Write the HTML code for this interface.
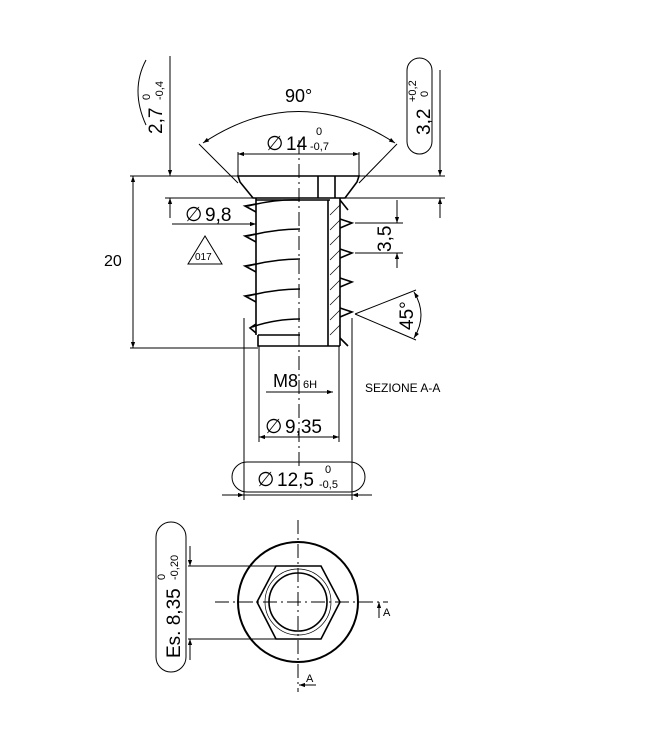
<!DOCTYPE html>
<html><head><style>html,body{margin:0;padding:0;background:#fff}svg{display:block}
text{font-family:"Liberation Sans",sans-serif;fill:#000}
.d{font-family:"DejaVu Sans",sans-serif;font-size:20px}</style></head><body>
<svg width="651" height="743" viewBox="0 0 651 743" xmlns="http://www.w3.org/2000/svg">
<defs><marker id="a" viewBox="0 0 10 10" refX="10" refY="5" markerWidth="10" markerHeight="6" orient="auto-start-reverse" markerUnits="userSpaceOnUse"><path d="M0,1.5 L10,5 L0,8.5z" fill="#000"/></marker></defs>
<g stroke="#000" fill="none" stroke-width="1">
<line x1="130" y1="176" x2="445" y2="176"/>
<line x1="165" y1="198" x2="445" y2="198"/>
<line x1="130" y1="348" x2="258" y2="348"/>
<line x1="133" y1="176" x2="133" y2="348" marker-start="url(#a)" marker-end="url(#a)"/>
<line x1="170" y1="56" x2="170" y2="176" marker-end="url(#a)"/>
<line x1="170" y1="198" x2="170" y2="218" marker-start="url(#a)"/>
<path d="M146,60 Q130,90 146,125" />
<line x1="440" y1="70" x2="440" y2="176" marker-end="url(#a)"/>
<line x1="440" y1="198" x2="440" y2="218" marker-start="url(#a)"/>
<rect x="407" y="58" width="25" height="96" rx="12.5"/>
<path d="M203,143 Q298,80 395,143" marker-start="url(#a)" marker-end="url(#a)"/>
<line x1="199" y1="144" x2="238" y2="183"/>
<line x1="397" y1="144" x2="359" y2="183"/>
<line x1="238" y1="152" x2="238" y2="176"/>
<line x1="359" y1="152" x2="359" y2="176"/>
<line x1="238" y1="154" x2="359" y2="154" marker-start="url(#a)" marker-end="url(#a)"/>
<line x1="172" y1="224" x2="256" y2="224" marker-end="url(#a)"/>
<polygon points="205,236 188,264 222,264"/>
<line x1="355" y1="223" x2="403" y2="223"/>
<line x1="355" y1="253" x2="403" y2="253"/>
<line x1="397" y1="200" x2="397" y2="223" marker-end="url(#a)"/>
<line x1="397" y1="253" x2="397" y2="268" marker-start="url(#a)"/>
<line x1="355" y1="314" x2="416" y2="290"/>
<line x1="355" y1="314" x2="416" y2="340"/>
<path d="M414,292 Q428,315 414,338" marker-start="url(#a)" marker-end="url(#a)"/>
<g stroke-width="1.6">
<polygon points="238,176 359,176 357,182 345,198 253,198 240,182"/>
<line x1="256" y1="198" x2="256" y2="335"/>
<line x1="328" y1="200" x2="328" y2="346"/>
<line x1="340" y1="198" x2="340" y2="346"/>
<line x1="256" y1="200" x2="330" y2="200"/>
<path d="M258,335 V346 H340"/>
<line x1="258" y1="335" x2="300" y2="335"/>
<path d="M256,204 L245,206 L256,212 M256,234 L245,236 L256,242 M256,264 L245,266 L256,272 M256,294 L245,296 L256,302 M256,324 L250,328 L256,333"/>
<path d="M248,206 Q275,199 300,200 M248,236 Q275,229 300,229 M248,266 Q275,259 300,259 M248,296 Q275,289 300,289 M252,327 Q275,319 300,319"/>
<path d="M340,200 L348,210 M340,219 L352,223 L340,228 M340,249 L352,253 L340,258 M340,278 L352,282 L340,287 M340,308 L352,312 L340,317 M340,338 L348,346"/>
<line x1="318" y1="176" x2="318" y2="198"/>
<line x1="335" y1="176" x2="335" y2="198"/>
</g>
<g stroke-width="0.7">
<path d="M330,215 L340,205 M330,245 L340,235 M330,275 L340,265 M330,305 L340,295 M330,335 L340,325 M330,230 L340,220 M330,260 L340,250 M330,290 L340,280 M330,320 L340,310"/>
</g>
<line x1="299" y1="140" x2="299" y2="470" stroke-dasharray="14,4,2,4"/>
<line x1="244" y1="318" x2="244" y2="500"/>
<line x1="352" y1="318" x2="352" y2="500"/>
<line x1="259" y1="346" x2="259" y2="442"/>
<line x1="339" y1="346" x2="339" y2="442"/>
<line x1="266" y1="392" x2="333" y2="392" marker-end="url(#a)"/>
<line x1="259" y1="437" x2="339" y2="437" marker-start="url(#a)" marker-end="url(#a)"/>
<rect x="232" y="462" width="133" height="30" rx="15"/>
<line x1="222" y1="495" x2="244" y2="495" marker-end="url(#a)"/>
<line x1="244" y1="495" x2="352" y2="495"/>
<line x1="372" y1="495" x2="352" y2="495" marker-end="url(#a)"/>
<circle cx="298" cy="602" r="60" stroke-width="2"/>
<polygon points="257,602 276,566 321,566 340,602 321,639 276,639" stroke-width="1.6"/>
<circle cx="298" cy="602" r="33" stroke-width="0.7"/>
<circle cx="298" cy="602" r="29" stroke-width="1.6"/>
<line x1="298" y1="520" x2="298" y2="692" stroke-dasharray="14,4,2,4"/>
<line x1="215" y1="602" x2="388" y2="602" stroke-dasharray="14,4,2,4"/>
<line x1="188" y1="566" x2="276" y2="566"/>
<line x1="188" y1="639" x2="276" y2="639"/>
<line x1="190" y1="546" x2="190" y2="566" marker-end="url(#a)"/>
<line x1="190" y1="660" x2="190" y2="639" marker-end="url(#a)"/>
<rect x="156" y="522" width="30" height="150" rx="15"/>
<line x1="379" y1="618" x2="379" y2="602" marker-end="url(#a)"/>
<line x1="316" y1="685" x2="299" y2="685" marker-end="url(#a)"/>
</g>
<g font-size="19">
<text x="285" y="102" font-size="18">90°</text>
<text x="266" y="150" class="d">∅</text><text x="286" y="150">14</text>
<text x="316" y="135" font-size="11">0</text>
<text x="310" y="150" font-size="11">-0,7</text>
<text x="185" y="221" class="d">∅</text><text x="205" y="221">9,8</text>
<text x="104" y="266" font-size="16">20</text>
<text x="195" y="260" font-size="10">017</text>
<text x="273" y="387" font-size="18">M8</text>
<text x="303" y="388" font-size="11">6H</text>
<text x="365" y="392" font-size="12">SEZIONE A-A</text>
<text x="265" y="433" class="d">∅</text><text x="285" y="433">9,35</text>
<text x="257" y="486" class="d">∅</text><text x="277" y="486">12,5</text>
<text x="325" y="473" font-size="11">0</text>
<text x="319" y="488" font-size="11">-0,5</text>
<text x="383" y="616" font-size="11">A</text>
<text x="306" y="682" font-size="11">A</text>
<text transform="translate(162,134) rotate(-90)">2,7</text>
<text transform="translate(150,100) rotate(-90)" font-size="11">0</text>
<text transform="translate(163,100) rotate(-90)" font-size="11">-0,4</text>
<text transform="translate(430,135) rotate(-90)">3,2</text>
<text transform="translate(416,102) rotate(-90)" font-size="11">+0,2</text>
<text transform="translate(428,97) rotate(-90)" font-size="11">0</text>
<text transform="translate(391,252) rotate(-90)">3,5</text>
<text transform="translate(413,330) rotate(-90)">45°</text>
<text transform="translate(180,658) rotate(-90)">Es. 8,35</text>
<text transform="translate(165,580) rotate(-90)" font-size="11">0</text>
<text transform="translate(178,580) rotate(-90)" font-size="11">-0,20</text>
</g>
</svg>
</body></html>
